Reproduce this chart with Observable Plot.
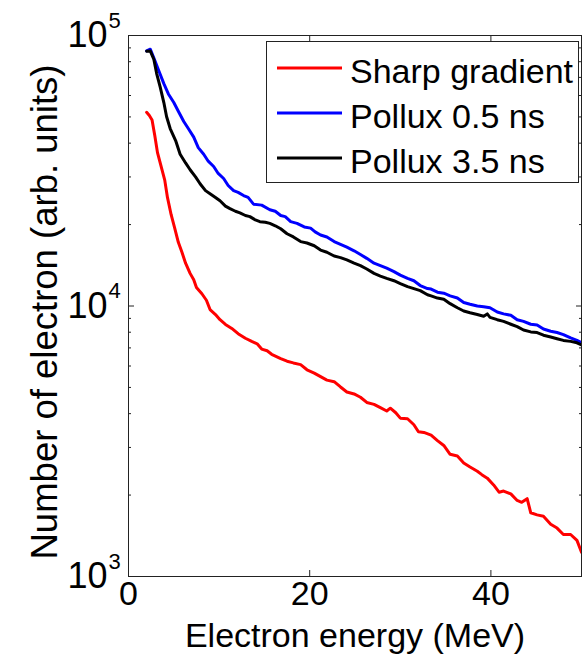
<!DOCTYPE html>
<html><head><meta charset="utf-8">
<script src="https://cdn.jsdelivr.net/npm/d3@7"></script>
<script src="https://cdn.jsdelivr.net/npm/@observablehq/plot@0.6"></script>
<style>
body{margin:0;background:#fff;}
#wrap{position:relative;width:582px;height:658px;font-family:"Liberation Sans",Arial,Helvetica,sans-serif;}
#legend{position:absolute;left:266px;top:41px;}
</style></head><body><div id="wrap"></div>
<script>
const seriesNames = ["Sharp gradient", "Pollux 0.5 ns", "Pollux 3.5 ns"];
const seriesColors = ["#ff0000", "#0000ff", "#000000"];

const sharpEnergy = [2.0,2.3,2.6,2.9,3.2,3.6,4.0,4.3,4.7,5.1,5.5,5.9,6.3,6.8,7.2,7.5,8.1,8.6,9.0,9.6,10.1,10.7,11.4,12.1,12.9,13.6,14.2,14.7,15.3,15.8,16.8,17.5,18.2,19.0,19.7,20.5,21.2,21.9,22.7,23.4,24.1,24.9,25.6,26.3,27.1,27.8,28.5,28.9,29.5,30.0,30.8,31.5,32.0,32.6,33.4,34.1,34.8,35.5,36.3,37.0,37.7,38.5,39.0,39.6,40.3,40.9,41.4,42.2,42.9,43.4,44.0,44.4,45.1,45.8,46.6,47.3,48.0,48.8,49.5,50.0];
const sharpCounts = [52000,50600,48700,42700,36900,32800,29200,25200,21800,19400,17200,15800,14400,13200,12500,11700,11100,10500,9700,9300,8900,8550,8260,7900,7600,7400,7250,6930,6830,6630,6390,6250,6160,6070,5810,5650,5480,5320,5250,5020,4810,4730,4600,4400,4330,4210,4090,4190,4030,3850,3830,3640,3430,3410,3330,3180,3050,2830,2790,2630,2540,2450,2380,2310,2180,2050,2070,2020,1910,1880,1940,1720,1690,1670,1560,1510,1430,1430,1360,1230];

const pollux05Energy = [2.0,2.4,2.8,3.3,3.9,4.4,5.0,5.5,6.1,6.6,7.2,7.7,8.3,8.8,9.4,9.9,10.5,11.0,11.6,12.1,12.7,13.2,13.8,14.7,15.6,16.2,16.8,17.3,17.9,18.6,19.4,20.1,20.6,21.2,21.9,22.7,23.4,24.1,24.9,25.6,26.3,27.1,27.8,28.5,29.3,30.0,30.8,31.5,32.2,33.0,33.4,34.1,34.8,35.5,36.3,37.0,37.7,38.5,39.2,39.9,40.7,41.4,42.2,42.9,43.6,44.4,45.1,45.8,46.6,47.3,48.0,48.8,49.5,50.0];
const pollux05Counts = [87700,89000,82600,74700,66400,60800,56500,52500,48100,45300,42100,38500,36400,34300,32800,30900,29600,27900,26700,26300,25600,25200,23800,23600,22700,22400,21600,21400,20500,20200,19600,19400,18800,18300,18000,17300,16900,16500,16000,15500,15000,14400,14100,13800,13400,13000,12650,12400,11900,11600,11550,11250,11150,10900,10700,10300,10150,10000,9940,9850,9500,9350,9240,8900,8770,8560,8500,8220,8070,7980,7840,7620,7460,7310];

const pollux35Energy = [2.0,2.4,2.8,3.1,3.5,3.9,4.2,4.6,5.2,5.7,6.3,6.8,7.4,7.9,8.5,9.0,9.6,10.1,10.7,11.2,11.8,12.3,12.9,13.4,14.0,14.5,15.1,15.6,16.2,16.8,17.5,18.2,19.0,19.7,20.5,21.2,21.9,22.7,23.4,24.1,24.9,25.6,26.3,27.1,27.8,28.5,29.3,30.0,30.8,31.5,32.2,33.0,33.4,34.1,34.8,35.5,36.3,37.0,37.7,38.5,39.2,39.6,39.9,40.7,41.4,42.2,42.9,43.6,44.4,45.1,45.8,46.6,47.3,48.0,48.8,49.5,50.0];
const pollux35Counts = [87500,87700,81500,72500,64400,56500,50200,45300,40900,36400,33800,31900,30000,28300,26700,26000,25200,24500,23400,22900,22400,22100,21600,21400,20800,20500,20400,20200,19800,19300,18500,18000,17300,17100,16700,16100,15800,15300,15100,14800,14400,14100,13700,13200,12900,12650,12400,12100,11800,11600,11400,11000,10900,10700,10600,10200,9850,9580,9440,9300,9160,9350,9080,8900,8770,8560,8390,8150,8020,7980,7800,7680,7570,7460,7400,7310,7180];

const xTicks = [0, 20, 40];
const yMajor = [1e3, 1e4, 1e5];
const yExponents = ["3", "4", "5"];
const yMinor = [2e3,3e3,4e3,5e3,6e3,7e3,8e3,9e3,2e4,3e4,4e4,5e4,6e4,7e4,8e4,9e4];
const xLabel = "Electron energy (MeV)";
const yLabel = "Number of electron (arb. units)";

const energies = [sharpEnergy, pollux05Energy, pollux35Energy];
const counts = [sharpCounts, pollux05Counts, pollux35Counts];
const rows = [];
seriesNames.forEach((s, k) => energies[k].forEach((e, i) => rows.push({series: s, e, n: counts[k][i]})));

const font = '"Liberation Sans", Arial, Helvetica, sans-serif';
const blank = () => "";

const chart = Plot.plot({
  width: 582, height: 658,
  marginLeft: 128, marginRight: 1, marginTop: 35, marginBottom: 82,
  style: {fontFamily: font, background: "#fff", color: "#000"},
  x: {domain: [0, 50]},
  y: {type: "log", domain: [1e3, 1e5]},
  color: {domain: seriesNames, range: seriesColors},
  marks: [
    Plot.line(rows, {x: "e", y: "n", z: "series", stroke: "series", strokeWidth: 3, clip: true}),
    Plot.frame({stroke: "#222", strokeWidth: 1}),
    Plot.axisX(xTicks, {anchor: "bottom", tickSize: -6, tickFormat: blank, label: null, stroke: "#222"}),
    Plot.axisX(xTicks, {anchor: "top", tickSize: -6, tickFormat: blank, label: null, stroke: "#222"}),
    Plot.axisY(yMajor, {anchor: "left", tickSize: -6, tickFormat: blank, label: null, stroke: "#222"}),
    Plot.axisY(yMajor, {anchor: "right", tickSize: -6, tickFormat: blank, label: null, stroke: "#222"}),
    Plot.axisY(yMinor, {anchor: "left", tickSize: -3, tickFormat: blank, label: null, stroke: "#222"}),
    Plot.axisY(yMinor, {anchor: "right", tickSize: -3, tickFormat: blank, label: null, stroke: "#222"}),
    Plot.text(xTicks, {x: d => d, frameAnchor: "bottom", dy: 28, text: d => String(d), fontSize: 34, fill: "#000"}),
    Plot.text(yMajor, {y: d => d, frameAnchor: "left", textAnchor: "end", dx: -21, text: () => "10", fontSize: 36, fill: "#000"}),
    Plot.text(yMajor, {y: d => d, frameAnchor: "left", textAnchor: "start", dx: -20, dy: -15, text: (d, i) => yExponents[i], fontSize: 22, fill: "#000"}),
    Plot.text([xLabel], {frameAnchor: "bottom", dy: 70, text: d => d, fontSize: 34, fill: "#000"}),
    Plot.text([yLabel], {frameAnchor: "left", textAnchor: "middle", dx: -83, dy: 6, rotate: -90, text: d => d, fontSize: 36.5, fill: "#000"})
  ]
});
const wrap = document.getElementById("wrap");
wrap.appendChild(chart);

// legend
const ns = "http://www.w3.org/2000/svg";
const lg = document.createElementNS(ns, "svg");
lg.setAttribute("id", "legend");
lg.setAttribute("width", 314);
lg.setAttribute("height", 143);
const box = document.createElementNS(ns, "rect");
box.setAttribute("x", 0.5); box.setAttribute("y", 0.5);
box.setAttribute("width", 312); box.setAttribute("height", 141);
box.setAttribute("fill", "#fff"); box.setAttribute("stroke", "#222");
lg.appendChild(box);
seriesNames.forEach((s, i) => {
  const cy = 27 + i * 45;
  const ln = document.createElementNS(ns, "line");
  ln.setAttribute("x1", 11); ln.setAttribute("x2", 76);
  ln.setAttribute("y1", cy); ln.setAttribute("y2", cy);
  ln.setAttribute("stroke", seriesColors[i]); ln.setAttribute("stroke-width", 3);
  lg.appendChild(ln);
  const tx = document.createElementNS(ns, "text");
  tx.setAttribute("x", 84); tx.setAttribute("y", cy + 15);
  tx.setAttribute("font-size", 34);
  tx.setAttribute("font-family", font);
  tx.textContent = s;
  lg.appendChild(tx);
});
wrap.appendChild(lg);
</script></body></html>
